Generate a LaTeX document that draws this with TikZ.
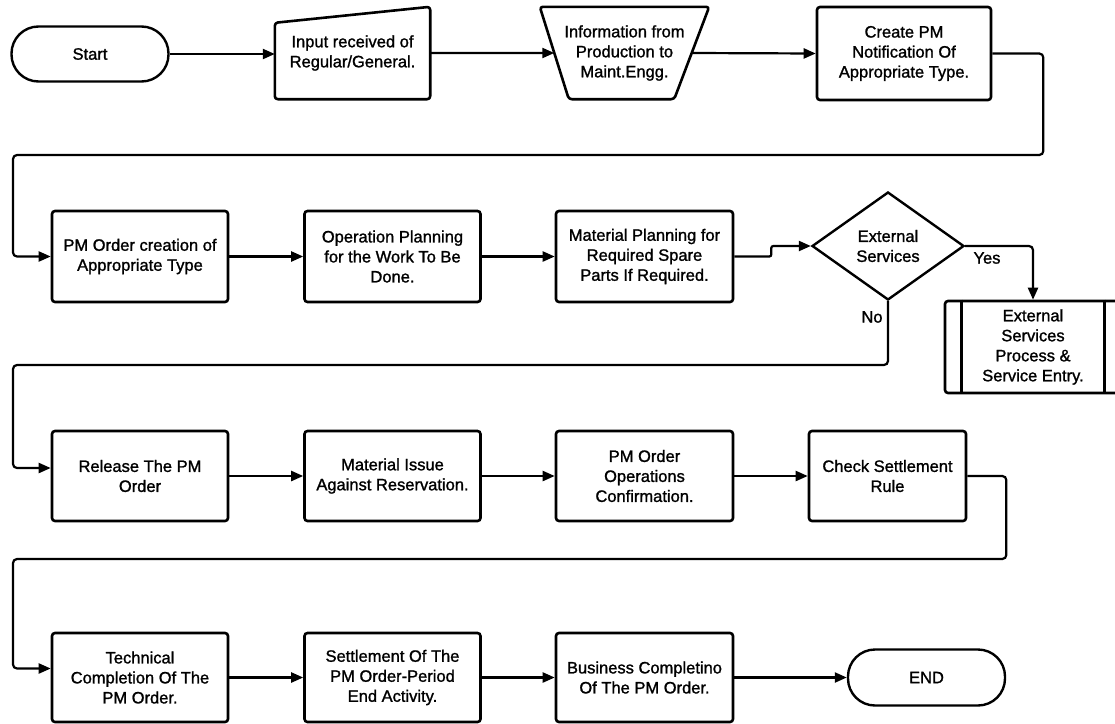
\documentclass[tikz,border=0pt]{standalone}
\usepackage{fontspec}
\setmainfont{Liberation Sans}
\newfontfamily\chartfont{Liberation Sans}[FakeBold=1.3]
\usetikzlibrary{arrows.meta,shapes.geometric,calc}

\begin{document}
\begin{tikzpicture}[x=1pt,y=-1pt,
  every node/.style={font=\chartfont\fontsize{16.5pt}{20pt}\selectfont, align=center, inner sep=0pt},
  proc/.style={draw, line width=2.6pt, rounded corners=3pt, minimum width=176pt, minimum height=91pt},
  term/.style={draw, line width=2.4pt, rounded corners=27pt, minimum width=157pt, minimum height=55pt},
  outline/.style={draw, line width=2.6pt, rounded corners=3pt, line join=round},
  decision/.style={draw, diamond, line width=2.4pt, aspect=1.4, minimum width=152pt, minimum height=108pt},
  flow/.style={line width=2.2pt, rounded corners=4pt, -{Triangle[length=12pt,width=10pt]}},
]
\useasboundingbox (0,0) rectangle (1115,723);
\clip (0,0) rectangle (1115,723);

% ---- row 1 ----
\node[term] (start) at (90,54) {Start};

\node[minimum width=155pt, minimum height=92pt] (inp) at (352.5,53) {Input received of\\Regular/General.};
\draw[outline] ([yshift=-16pt]inp.north west) -- (inp.north east) -- (inp.south east) -- (inp.south west) -- cycle;

\node[minimum width=169pt, minimum height=92pt] (info) at (624.5,53) {Information from\\Production to\\Maint.Engg.};
\draw[outline] (info.north west) -- (info.north east) -- ([xshift=-35pt]info.south east) -- ([xshift=29pt]info.south west) -- cycle;
\coordinate (infoL) at ($(info.north west)!0.5!([xshift=29pt]info.south west)$);
\coordinate (infoR) at ($(info.north east)!0.5!([xshift=-35pt]info.south east)$);

\node[proc, minimum width=174pt, minimum height=93pt] (create) at (904,53.5) {Create PM\\Notification Of\\Appropriate Type.};

% ---- row 2 ----
\node[proc] (pmo) at (140,256.5) {PM Order creation of\\Appropriate Type};
\node[proc] (op) at (392.5,256.5) {Operation Planning\\for the Work To Be\\Done.};
\node[proc, minimum width=177pt] (mat) at (644.5,256.5) {Material Planning for\\Required Spare\\Parts If Required.};
\node[decision] (dia) at (888,246) {External\\Services};
\node[proc, minimum height=92pt] (ext) at (1033,347) {External\\Services\\Process \&\\Service Entry.};
\draw[line width=2.6pt] ([xshift=18pt]ext.north west) -- ([xshift=18pt]ext.south west);
\draw[line width=2.6pt] ([xshift=-18pt]ext.north east) -- ([xshift=-18pt]ext.south east);
\node (yes) at (987,258) {Yes};
\node (no) at (872,317) {No};

% ---- row 3 ----
\node[proc, minimum height=90pt] (rel) at (140,476) {Release The PM\\Order};
\node[proc, minimum height=90pt] (mi) at (392.5,476) {Material Issue\\Against Reservation.};
\node[proc, minimum width=177pt, minimum height=90pt] (ops) at (644.5,476) {PM Order\\Operations\\Confirmation.};
\node[proc, minimum width=157pt, minimum height=90pt] (chk) at (887.5,476) {Check Settlement\\Rule};

% ---- row 4 ----
\node[proc, minimum height=89pt] (tech) at (140,677.5) {Technical\\Completion Of The\\PM Order.};
\node[proc, minimum height=89pt] (settle) at (392.5,677.5) {Settlement Of The\\PM Order-Period\\End Activity.};
\node[proc, minimum width=177pt, minimum height=89pt] (bus) at (644.5,677.5) {Business Completino\\Of The PM Order.};
\node[term, minimum height=56pt] (endn) at (926.5,677.5) {END};

% ---- connectors ----
\draw[flow] (start.east) -- (start.east -| inp.west);
\draw[flow] (inp.east) -- (infoL);
\draw[flow] (infoR) -- (create.west);
\draw[flow] (create.east) -- ++(51pt,0) |- (13,155) |- (pmo.west);

\draw[flow] (pmo.east) -- (op.west);
\draw[flow] (op.east) -- (mat.west);
\draw[flow, rounded corners=2pt] (mat.east) -- ++(37pt,0) |- (dia.west);
\draw[flow] (dia.east) -| (ext.north);
\draw[flow] (dia.south) |- (13,365) |- ([yshift=8pt]rel.west);

\draw[flow] (rel.east) -- (mi.west);
\draw[flow] (mi.east) -- (ops.west);
\draw[flow] (ops.east) -- (chk.west);
\draw[flow] (chk.east) -- ++(39pt,0) |- (13,559) |- ([yshift=9pt]tech.west);

\draw[flow] (tech.east) -- (settle.west);
\draw[flow] (settle.east) -- (bus.west);
\draw[flow] (bus.east) -- (endn.west);
\end{tikzpicture}
\end{document}
